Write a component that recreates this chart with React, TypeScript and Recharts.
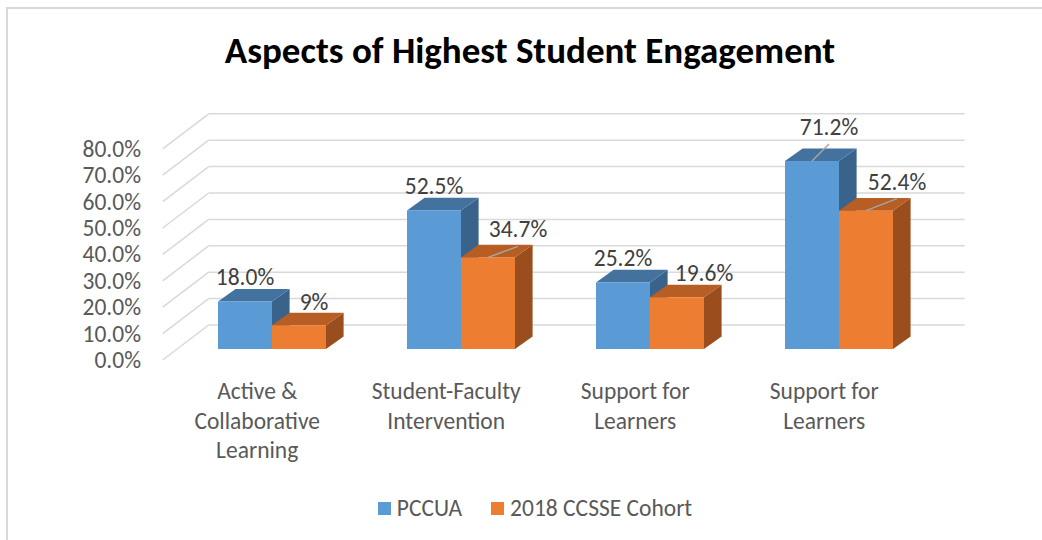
import React from "react";
import { BarChart, Bar, XAxis, YAxis, CartesianGrid, LabelList, Legend } from "recharts";

const categories = [
  "Active & Collaborative Learning",
  "Student-Faculty Intervention",
  "Support for Learners",
  "Support for Learners",
];
const pccua = [18.0, 52.5, 25.2, 71.2];
const cohort = [9, 34.7, 19.6, 52.4];
const pccuaLabels = ["18.0%", "52.5%", "25.2%", "71.2%"];
const cohortLabels = ["9%", "34.7%", "19.6%", "52.4%"];
const yTicks = [0, 10, 20, 30, 40, 50, 60, 70, 80];
const seriesOrder = ["pccua", "cohort"];

// label nudges (Excel had some labels dragged, with leader lines)
const pccuaNudge = [[0, 0], [0, 0], [0, 0], [17, -10]];
const cohortNudge = [[15, 1], [30, -4], [27, 0], [31, -5]];

const data = categories.map((name, i) => ({ name, pccua: pccua[i], cohort: cohort[i] }));

const FONT = "Calibri, Carlito, Lato, sans-serif";
const FS = 23.5;
const W = 1042;
const H = 540;
const BAR_DX = 17.6;
const BAR_DY = 12.6;
const FRONT = { dx: -14.3, dy: 11 };
const BACK = { dx: 31.7, dy: -24 };
const GRID = "#d9d9d9";

const BLUE = { front: "#5b9bd5", top: "#44729f", side: "#3a638c" };
const ORANGE = { front: "#ed7d31", top: "#b75e24", side: "#9a4e1d" };

function make3DBar(c: { front: string; top: string; side: string }) {
  return (props: any) => {
    const { x, y, width, height } = props;
    if (width == null || height == null) return <g />;
    const r = x + width;
    const b = y + height;
    return (
      <g>
        <polygon
          points={`${r},${y} ${r + BAR_DX},${y - BAR_DY} ${r + BAR_DX},${b - BAR_DY} ${r},${b}`}
          fill={c.side}
        />
        <polygon
          points={`${x},${y} ${x + BAR_DX},${y - BAR_DY} ${r + BAR_DX},${y - BAR_DY} ${r},${y}`}
          fill={c.top}
        />
        <rect x={x} y={y} width={width} height={height} fill={c.front} />
      </g>
    );
  };
}

const renderGridLine = (props: any) => {
  const { x1, x2, y1 } = props;
  const bx = x1 + BACK.dx;
  const by = y1 + BACK.dy;
  return (
    <g key={`g-${props.index}`}>
      <line x1={x1 + FRONT.dx} y1={y1 + FRONT.dy} x2={bx} y2={by} stroke={GRID} strokeWidth={1.5} />
      <line x1={bx} y1={by} x2={x2 + BACK.dx} y2={by} stroke={GRID} strokeWidth={1.5} />
    </g>
  );
};

function makeLabel(labels: string[], nudges: number[][], values: number[]) {
  return (props: any) => {
    const vb = props.viewBox || {};
    const x = props.x ?? vb.x;
    const y = props.y ?? vb.y;
    const width = props.width ?? vb.width;
    let index = props.index;
    if (index == null) index = values.indexOf(props.value);
    if (index < 0 || index == null) return null;
    const [ndx, ndy] = nudges[index];
    const fx = x + width / 2;
    const cx = fx + ndx;
    const cy = y - 24 + ndy;
    return (
      <g>
        {ndy < -3 && (
          <line x1={fx} y1={y} x2={cx} y2={cy + 17} stroke="#a6a6a6" strokeWidth={1.5} />
        )}
        <text x={cx} y={cy + 8} textAnchor="middle" fill="#404040" fontSize={FS} fontFamily={FONT}>
          {labels[index]}
        </text>
      </g>
    );
  };
}

function wrap(s: string, max = 15) {
  const words = s.split(" ");
  const lines: string[] = [];
  let cur = "";
  for (const w of words) {
    const next = cur ? cur + " " + w : w;
    if (next.length > max && cur) {
      lines.push(cur);
      cur = w;
    } else cur = next;
  }
  if (cur) lines.push(cur);
  return lines;
}

const CategoryTick = (props: any) => {
  const { x, y, payload } = props;
  const lx = x + FRONT.dx;
  return (
    <text textAnchor="middle" fill="#595959" fontSize={FS} fontFamily={FONT}>
      {wrap(payload.value).map((l, i) => (
        <tspan key={i} x={lx} y={y + 50 + i * 29.5}>
          {l}
        </tspan>
      ))}
    </text>
  );
};

const ValueTick = (props: any) => {
  const { x, y, payload } = props;
  return (
    <text x={x - 36} y={y + 19} textAnchor="end" fill="#595959" fontSize={FS} fontFamily={FONT}>
      {`${Number(payload.value).toFixed(1)}%`}
    </text>
  );
};

const renderLegend = (props: any) => {
  const items = [...(props.payload || [])].sort(
    (a: any, b: any) => seriesOrder.indexOf(a.dataKey) - seriesOrder.indexOf(b.dataKey)
  );
  return (
    <div
      style={{
        display: "flex",
        justifyContent: "center",
        paddingLeft: 28,
        fontFamily: FONT,
        fontSize: FS,
        color: "#595959",
        lineHeight: "28px",
      }}
    >
      {items.map((it: any, i: number) => (
        <div key={i} style={{ display: "flex", alignItems: "center", marginRight: i < items.length - 1 ? 29 : 0 }}>
          <span style={{ width: 13, height: 13, background: it.color, display: "inline-block", marginRight: 6 }} />
          <span>{it.value}</span>
        </div>
      ))}
    </div>
  );
};

export default function App() {
  return (
    <div style={{ position: "absolute", left: 0, top: 0, width: W, height: H, background: "#fff" }}>
      <svg width={W} height={H} style={{ position: "absolute", left: 0, top: 0 }}>
        <rect x={7} y={8} width={W + 20} height={H + 20} fill="#fff" stroke="#d9d9d9" strokeWidth={2} />
        <text x={530} y={63} textAnchor="middle" fontWeight="bold" fontSize={37} fontFamily={FONT} fill="#000">
          Aspects of Highest Student Engagement
        </text>
      </svg>
      <div style={{ position: "absolute", left: 0, top: 0 }}>
        <BarChart
          width={W}
          height={H}
          data={data}
          margin={{ top: 137.8, right: 109, bottom: 81, left: 117 }}
          barGap={0}
          barSize={54}
        >
          <CartesianGrid vertical={false} horizontal={renderGridLine} />
          <XAxis
            dataKey="name"
            height={110}
            axisLine={false}
            tickLine={false}
            tickSize={0}
            tickMargin={0}
            interval={0}
            tick={<CategoryTick />}
          />
          <YAxis
            domain={[0, 80]}
            ticks={yTicks}
            width={60}
            axisLine={false}
            tickLine={false}
            tickSize={0}
            tickMargin={0}
            tick={<ValueTick />}
          />
          <Legend
            verticalAlign="middle"
            align="center"
            layout="horizontal"
            wrapperStyle={{ top: 494, left: 0, width: W }}
            content={renderLegend}
          />
          <Bar dataKey="pccua" name="PCCUA" fill={BLUE.front} shape={make3DBar(BLUE)} isAnimationActive={false}>
            <LabelList dataKey="pccua" content={makeLabel(pccuaLabels, pccuaNudge, pccua)} />
          </Bar>
          <Bar
            dataKey="cohort"
            name="2018 CCSSE Cohort"
            fill={ORANGE.front}
            shape={make3DBar(ORANGE)}
            isAnimationActive={false}
          >
            <LabelList dataKey="cohort" content={makeLabel(cohortLabels, cohortNudge, cohort)} />
          </Bar>
        </BarChart>
      </div>
    </div>
  );
}
